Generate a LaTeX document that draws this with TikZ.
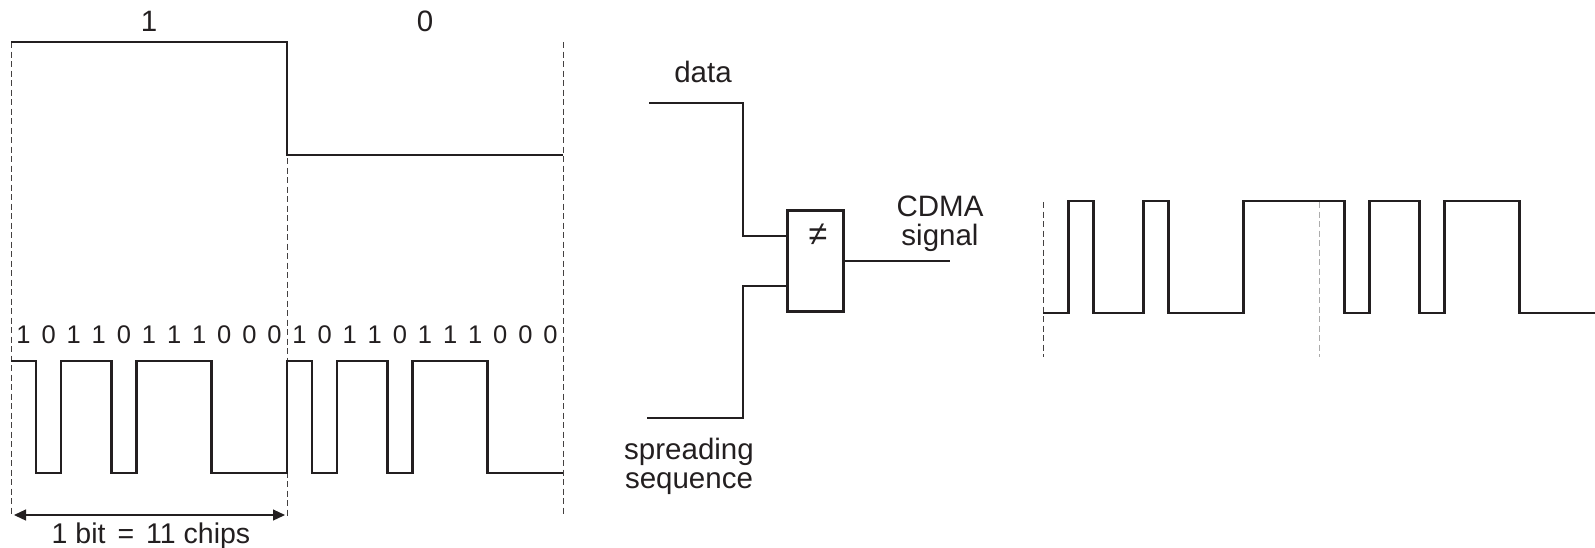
\documentclass[tikz,border=0pt]{standalone}
\usepackage{fontspec}
\setmainfont{Liberation Sans}
\usetikzlibrary{arrows.meta}
\definecolor{ink}{HTML}{231F20}
\begin{document}
\begin{tikzpicture}[x=1pt,y=-1pt,
  sig/.style={draw=ink, line width=2.5pt, line join=miter},
  wire/.style={draw=ink, line width=1.2pt},
  guide/.style={draw=ink!85, line width=1pt, dash pattern=on 6pt off 3.5pt},
  guidelight/.style={draw=gray!65, line width=1.3pt, dash pattern=on 6pt off 3.5pt},
  lbl/.style={font=\fontsize{29.5}{30}\selectfont, inner sep=0pt, anchor=base, text=ink},
  digit/.style={font=\fontsize{25.5}{30}\selectfont, inner sep=0pt, anchor=base, text=ink},
  gatebox/.style={draw=ink, line width=3pt, minimum width=56pt, minimum height=101pt, inner sep=0pt},
  dimarrow/.style={draw=ink, line width=1.2pt, {Triangle[length=12pt,width=11pt]}-{Triangle[length=12pt,width=11pt]}}]
\useasboundingbox (0,0) rectangle (1595,547);

% ---- guides (left)
\draw[guide] (11,42) -- (11,517);
\draw[guide] (287,158) -- (287,517);
\draw[guide] (563,42) -- (563,517);

% ---- data signal
\draw[sig] (11,42) -- (287,42) -- (287,155) -- (563,155);
\node[lbl] (b1) at (149,31) {1};
\node[lbl] (b0) at (425,31) {0};

% ---- chip digits
\foreach \d [count=\i from 0] in {1,0,1,1,0,1,1,1,0,0,0,1,0,1,1,0,1,1,1,0,0,0}
  \node[digit] (c\i) at ({11+25.0909*(\i+0.5)},343) {\d};

% ---- chip signal
\draw[sig] (11,361) -| (36.09,473) -| (61.18,361) -| (111.36,473) -| (136.45,361)
  -| (211.73,473) -| (287,361) -| (312.09,473) -| (337.18,361) -| (387.36,473)
  -| (412.45,361) -| (487.73,473) -- (563,473);

% ---- dimension arrow
\coordinate (dimL) at (14,515);
\coordinate (dimR) at (285,515);
\draw[dimarrow] (dimL) -- (dimR);
\node[lbl, font=\fontsize{28.5}{30}\selectfont] (dimtxt) at (151,543) {1 bit\hspace{12pt}=\hspace{12pt}11 chips};

% ---- gate
\node[gatebox] (gate) at (815,260.5) {};
\node[font=\fontsize{34}{36}\selectfont, inner sep=0pt, text=ink] (neq) at (818,235) {≠};
\coordinate (datain) at (649,103);
\coordinate (dbend) at (743,236);
\coordinate (spin) at (647,418);
\coordinate (sbend) at (743,286);
\coordinate (out) at (950,261);
\draw[wire] (datain) -| (dbend) -- (dbend -| gate.west);
\draw[wire] (spin) -| (sbend) -- (sbend -| gate.west);
\draw[wire] (gate.east |- out) -- (out);
\node[lbl] (datalbl) at (703,82) {data};
\node[lbl] (spr1) at (689,459) {spreading};
\node[lbl] (spr2) at (689,488) {sequence};
\node[lbl] (cdma1) at (940,216) {CDMA};
\node[lbl] (cdma2) at (940,245) {signal};

% ---- CDMA signal (right)
\draw[guide] (1043,202) -- (1043,357);
\draw[guidelight] (1319.5,202) -- (1319.5,357);
\draw[sig, line width=2.8pt] (1043,313) -| (1068.09,201) -| (1093.18,313) -| (1143.36,201) -| (1168.45,313)
  -| (1243.73,201) -| (1344.09,313) -| (1369.18,201) -| (1419.36,313) -| (1444.45,201)
  -| (1519.73,313) -- (1596,313);
\end{tikzpicture}
\end{document}
